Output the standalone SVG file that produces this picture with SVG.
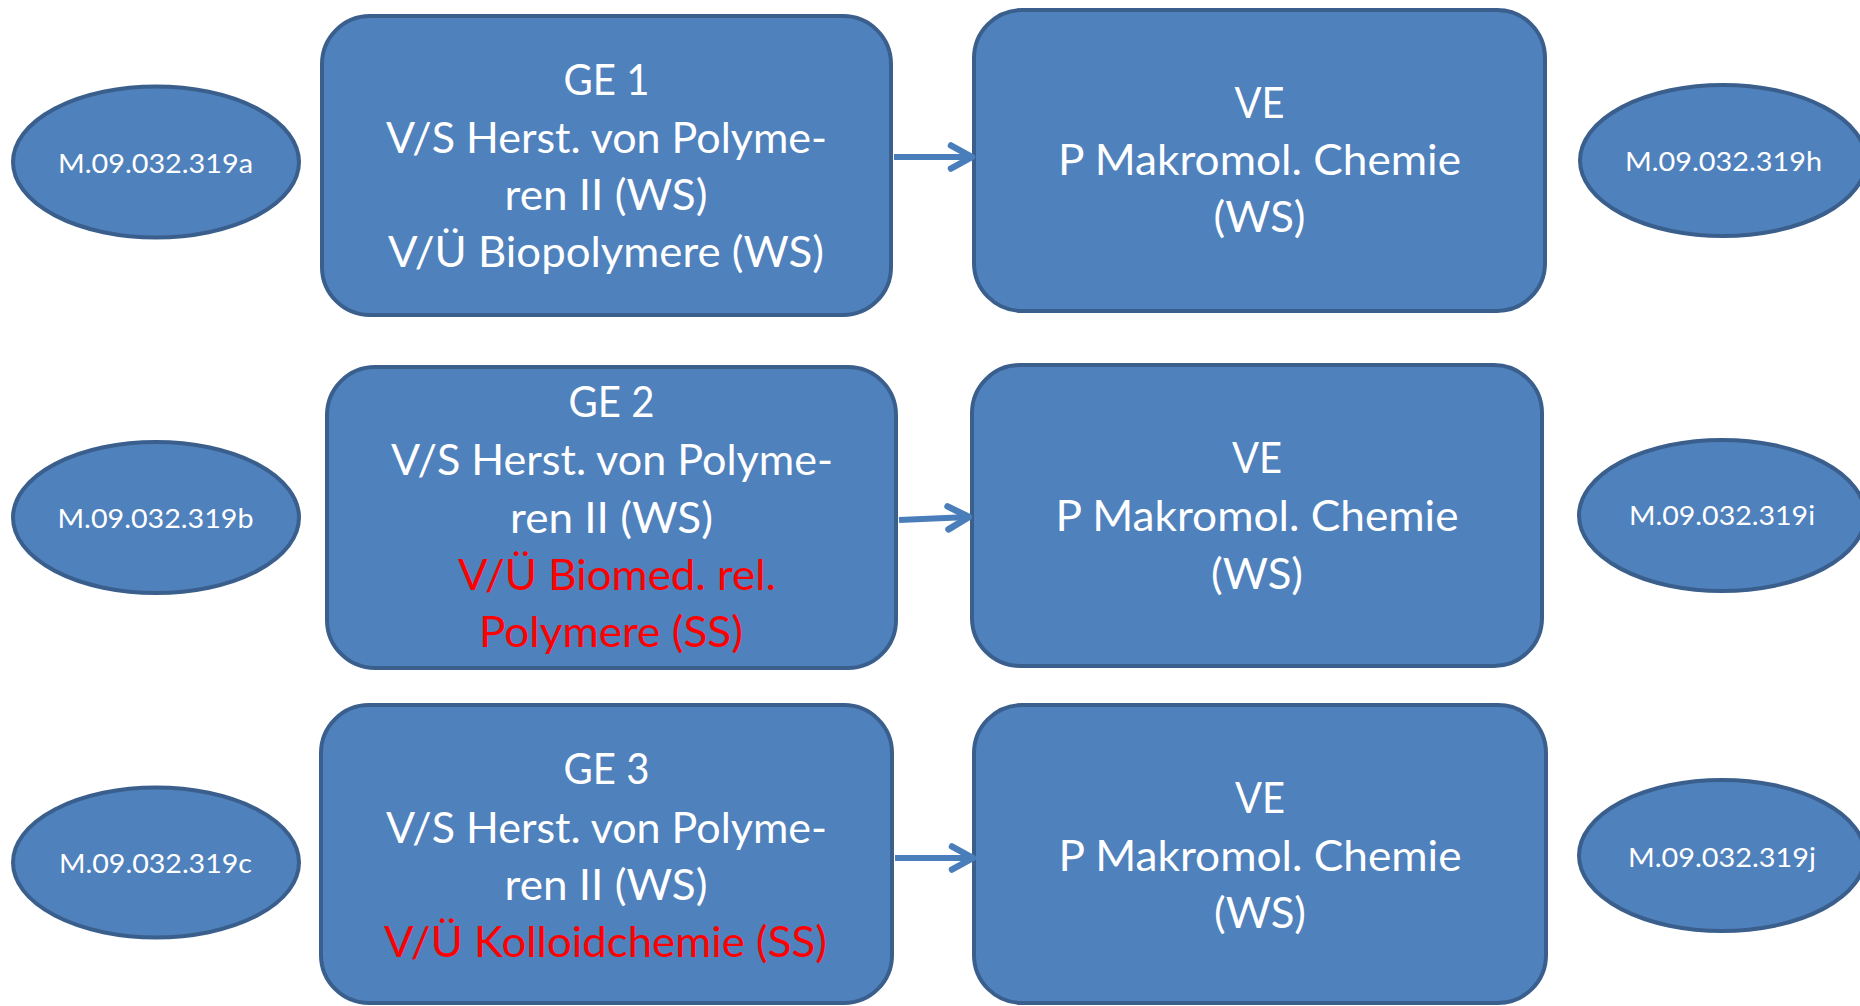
<svg xmlns="http://www.w3.org/2000/svg" width="1860" height="1006" viewBox="0 0 1860 1006">
  <style>
    .box { fill: #4F81BD; stroke: #3A5F8D; stroke-width: 4; }
    .oval { fill: #4F81BD; stroke: #3A5F8D; stroke-width: 4; }
    .t { font-family: Lato, "Open Sans", "Liberation Sans", sans-serif; font-size: 43px; fill: #FFFFFF; text-anchor: middle; }
    .red { fill: #FF0000; }
    .code { font-family: Lato, "Open Sans", "Liberation Sans", sans-serif; font-size: 27.5px; fill: #FFFFFF; text-anchor: middle; }
    .conn { fill: none; stroke: #4A7EBB; stroke-width: 6; stroke-linecap: butt; }
  </style>
  <defs>
    <marker id="open-arrow" markerUnits="userSpaceOnUse" markerWidth="40" markerHeight="40" viewBox="-30 -20 40 40" refX="0" refY="0" orient="auto" overflow="visible">
      <path d="M-21,-11.5 L0,0 L-21,11.5" fill="none" stroke="#4A7EBB" stroke-width="6.5" stroke-linecap="round" stroke-linejoin="round"/>
    </marker>
  </defs>

  <rect width="1860" height="1006" fill="#FFFFFF"/>

  <!-- row 1 -->
  <g id="m319a">
    <ellipse class="oval" cx="156" cy="162" rx="143" ry="75.5"/>
    <text class="code" x="155.5" y="173" textLength="195" lengthAdjust="spacingAndGlyphs">M.09.032.319a</text>
  </g>
  <g id="ge1">
    <rect class="box" x="322" y="16" width="569" height="299" rx="48" ry="48"/>
    <text class="t" x="606.5" y="95" textLength="86" lengthAdjust="spacingAndGlyphs">GE 1</text>
    <text class="t" x="606.5" y="153" textLength="441" lengthAdjust="spacingAndGlyphs">V/S Herst. von Polyme-</text>
    <text class="t" x="606" y="210" textLength="203" lengthAdjust="spacingAndGlyphs">ren II (WS)</text>
    <text class="t" x="606" y="267" textLength="436" lengthAdjust="spacingAndGlyphs">V/Ü Biopolymere (WS)</text>
  </g>
  <g id="ve1">
    <rect class="box" x="974" y="10" width="571" height="301" rx="48" ry="48"/>
    <text class="t" x="1259.5" y="118" textLength="50" lengthAdjust="spacingAndGlyphs">VE</text>
    <text class="t" x="1259.5" y="175" textLength="403" lengthAdjust="spacingAndGlyphs">P Makromol. Chemie</text>
    <text class="t" x="1259.5" y="232" textLength="92" lengthAdjust="spacingAndGlyphs">(WS)</text>
  </g>
  <g id="m319h">
    <ellipse class="oval" cx="1723" cy="160.5" rx="143" ry="75.5"/>
    <text class="code" x="1723.5" y="171" textLength="197" lengthAdjust="spacingAndGlyphs">M.09.032.319h</text>
  </g>

  <!-- row 2 -->
  <g id="m319b">
    <ellipse class="oval" cx="156" cy="517.5" rx="143" ry="75.5"/>
    <text class="code" x="155.5" y="528" textLength="196" lengthAdjust="spacingAndGlyphs">M.09.032.319b</text>
  </g>
  <g id="ge2">
    <rect class="box" x="327" y="367" width="569" height="301" rx="48" ry="48"/>
    <text class="t" x="611.5" y="417" textLength="86" lengthAdjust="spacingAndGlyphs">GE 2</text>
    <text class="t" x="612" y="475" textLength="442" lengthAdjust="spacingAndGlyphs">V/S Herst. von Polyme-</text>
    <text class="t" x="611.5" y="533" textLength="203" lengthAdjust="spacingAndGlyphs">ren II (WS)</text>
    <text class="t red" x="617" y="590" textLength="318" lengthAdjust="spacingAndGlyphs">V/Ü Biomed. rel.</text>
    <text class="t red" x="611" y="647" textLength="264" lengthAdjust="spacingAndGlyphs">Polymere (SS)</text>
  </g>
  <g id="ve2">
    <rect class="box" x="972" y="365" width="570" height="301" rx="48" ry="48"/>
    <text class="t" x="1257" y="473" textLength="50" lengthAdjust="spacingAndGlyphs">VE</text>
    <text class="t" x="1257" y="531" textLength="403" lengthAdjust="spacingAndGlyphs">P Makromol. Chemie</text>
    <text class="t" x="1257" y="589" textLength="92" lengthAdjust="spacingAndGlyphs">(WS)</text>
  </g>
  <g id="m319i">
    <ellipse class="oval" cx="1722" cy="515.5" rx="143" ry="75.5"/>
    <text class="code" x="1722" y="525" textLength="186" lengthAdjust="spacingAndGlyphs">M.09.032.319i</text>
  </g>

  <!-- row 3 -->
  <g id="m319c">
    <ellipse class="oval" cx="156" cy="862.5" rx="143" ry="75"/>
    <text class="code" x="155.5" y="873" textLength="193" lengthAdjust="spacingAndGlyphs">M.09.032.319c</text>
  </g>
  <g id="ge3">
    <rect class="box" x="321" y="705" width="571" height="298" rx="48" ry="48"/>
    <text class="t" x="606.5" y="784" textLength="86" lengthAdjust="spacingAndGlyphs">GE 3</text>
    <text class="t" x="606.5" y="843" textLength="441" lengthAdjust="spacingAndGlyphs">V/S Herst. von Polyme-</text>
    <text class="t" x="606" y="900" textLength="203" lengthAdjust="spacingAndGlyphs">ren II (WS)</text>
    <text class="t red" x="605.5" y="957" textLength="443" lengthAdjust="spacingAndGlyphs">V/Ü Kolloidchemie (SS)</text>
  </g>
  <g id="ve3">
    <rect class="box" x="974" y="705" width="572" height="298" rx="48" ry="48"/>
    <text class="t" x="1260" y="813" textLength="50" lengthAdjust="spacingAndGlyphs">VE</text>
    <text class="t" x="1260" y="871" textLength="403" lengthAdjust="spacingAndGlyphs">P Makromol. Chemie</text>
    <text class="t" x="1260" y="928" textLength="92" lengthAdjust="spacingAndGlyphs">(WS)</text>
  </g>
  <g id="m319j">
    <ellipse class="oval" cx="1722" cy="855.5" rx="143" ry="75.5"/>
    <text class="code" x="1722" y="867" textLength="188" lengthAdjust="spacingAndGlyphs">M.09.032.319j</text>
  </g>

  <!-- connectors: GE -> VE -->
  <g id="connectors">
    <line class="conn" x1="894" y1="157" x2="972" y2="157" marker-end="url(#open-arrow)"/>
    <line class="conn" x1="899" y1="520" x2="969" y2="517" marker-end="url(#open-arrow)"/>
    <line class="conn" x1="895" y1="858" x2="973" y2="858" marker-end="url(#open-arrow)"/>
  </g>
</svg>
